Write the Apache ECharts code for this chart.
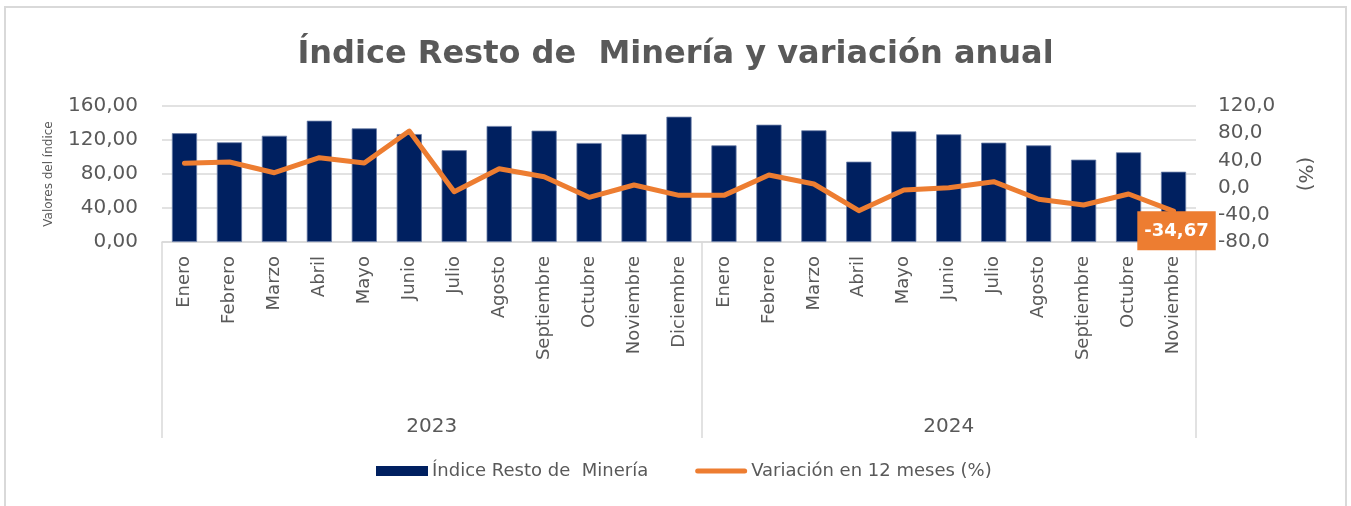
<!DOCTYPE html>
<html>
<head>
<meta charset="utf-8">
<script src="https://cdn.jsdelivr.net/npm/echarts@6/dist/echarts.min.js"></script>
<style>
  html, body { margin: 0; padding: 0; background: #fff; }
  #frame { position: absolute; left: 4px; top: 6px; width: 1343px; height: 520px; border: 2px solid #d9d9d9; box-sizing: border-box; }
  #chart { position: absolute; left: 0; top: 0; width: 1351px; height: 506px; }
</style>
</head>
<body>
<div id="frame"></div>
<div id="chart"></div>
<script>
// meses por año
const months2023 = ['Enero', 'Febrero', 'Marzo', 'Abril', 'Mayo', 'Junio', 'Julio', 'Agosto', 'Septiembre', 'Octubre', 'Noviembre', 'Diciembre'];
const months2024 = ['Enero', 'Febrero', 'Marzo', 'Abril', 'Mayo', 'Junio', 'Julio', 'Agosto', 'Septiembre', 'Octubre', 'Noviembre'];
const years = ['2023', '2024'];

const indice = [128.0, 117.3, 125.0, 142.7, 133.7, 127.0, 108.0, 136.5, 131.0, 116.5, 127.0, 147.4,
  113.7, 138.0, 131.4, 94.5, 130.2, 126.7, 116.9, 113.7, 96.9, 105.5, 82.7];
const variacion = [35.7, 37.6, 21.9, 44.0, 36.2, 83.2, -6.0, 27.8, 16.0, -14.3, 3.8, -11.4,
  -11.4, 18.5, 5.3, -34.0, -3.5, -0.1, 8.7, -17.2, -25.6, -9.4, -34.67];

const leftTicks = { min: 0, max: 160, interval: 40 };
const rightTicks = { min: -80, max: 120, interval: 40 };

const categories = months2023.concat(months2024);
const yearCounts = [months2023.length, months2024.length];
// límites y centros de cada año en unidades de categoría
const yearBounds = [0];
yearCounts.forEach((c, i) => yearBounds.push(yearBounds[i] + c));
const yearCenters = yearCounts.map((c, i) => yearBounds[i] + c / 2);

const FONT = 'DejaVu Sans';
const GRAY = '#595959';
const ORANGE = '#ED7D31';
const comma = (v, d) => v.toFixed(d).replace('.', ',');

// solo el último punto lleva etiqueta
const lineData = variacion.map((v, i) => {
  if (i !== variacion.length - 1) return v;
  return {
    value: v,
    label: {
      show: true,
      position: 'bottom',
      distance: 1,
      offset: [3, -2],
      formatter: p => comma(p.value, 2),
      backgroundColor: ORANGE,
      color: '#fff',
      fontFamily: FONT,
      fontWeight: 'bold',
      fontSize: 18,
      padding: [11, 7, 10, 7]
    }
  };
});

const chart = echarts.init(document.getElementById('chart'), null, { renderer: 'canvas' });
chart.setOption({
  animation: false,
  backgroundColor: 'transparent',
  textStyle: { fontFamily: FONT },
  title: {
    text: 'Índice Resto de  Minería y variación anual',
    left: 'center',
    top: 39,
    padding: 0,
    textStyle: { fontFamily: FONT, fontSize: 32, fontWeight: 'bold', color: GRAY }
  },
  legend: {
    left: 376,
    top: 462,
    padding: 0,
    itemWidth: 52,
    itemHeight: 10,
    itemGap: 47,
    textStyle: { fontFamily: FONT, fontSize: 18, color: GRAY, padding: [0, 0, 0, -1] },
    data: [
      { name: 'Índice Resto de  Minería', icon: 'rect', itemStyle: { borderWidth: 0 } },
      {
        name: 'Variación en 12 meses (%)',
        icon: 'path://M2.5,0 H49.5 A2.5,2.5 0 0 1 49.5,5 H2.5 A2.5,2.5 0 0 1 2.5,0 Z'
      }
    ]
  },
  grid: { left: 162, right: 155, top: 106, bottom: 264, containLabel: false },
  xAxis: [
    {
      type: 'category',
      data: categories,
      position: 'bottom',
      boundaryGap: true,
      axisLine: { onZero: false, lineStyle: { color: '#d9d9d9', width: 1.5 } },
      axisTick: { show: false },
      axisLabel: { rotate: 90, margin: 14, interval: 0, fontSize: 18, color: GRAY, fontFamily: FONT }
    },
    {
      type: 'value',
      position: 'bottom',
      min: 0,
      max: categories.length,
      axisLine: { show: false, onZero: false },
      splitLine: { show: false },
      axisTick: {
        show: true,
        customValues: yearBounds,
        length: 196,
        lineStyle: { color: '#d9d9d9', width: 1.5 }
      },
      axisLabel: {
        customValues: yearCenters,
        margin: 175,
        fontSize: 20,
        color: GRAY,
        fontFamily: FONT,
        formatter: v => years[yearCenters.indexOf(v)] || ''
      }
    }
  ],
  yAxis: [
    {
      type: 'value',
      min: leftTicks.min,
      max: leftTicks.max,
      interval: leftTicks.interval,
      name: 'Valores del índice',
      nameLocation: 'middle',
      nameGap: 107,
      nameRotate: 90,
      nameTextStyle: { fontSize: 12, color: GRAY, fontFamily: FONT },
      axisLine: { show: false },
      axisTick: { show: false },
      axisLabel: { margin: 24, fontSize: 20, color: GRAY, fontFamily: FONT, formatter: v => comma(v, 2) },
      splitLine: { lineStyle: { color: '#d9d9d9', width: 1.5 } }
    },
    {
      type: 'value',
      position: 'right',
      min: rightTicks.min,
      max: rightTicks.max,
      interval: rightTicks.interval,
      name: '(%)',
      nameLocation: 'middle',
      nameGap: 98,
      nameRotate: -90,
      nameTextStyle: { fontSize: 20, color: GRAY, fontFamily: FONT },
      axisLine: { show: false },
      axisTick: { show: false },
      axisLabel: { margin: 22, fontSize: 20, color: GRAY, fontFamily: FONT, formatter: v => comma(v, 1) },
      splitLine: { show: false }
    }
  ],
  series: [
    {
      name: 'Índice Resto de  Minería',
      type: 'bar',
      xAxisIndex: 0,
      yAxisIndex: 0,
      data: indice,
      barWidth: '56%',
      itemStyle: { color: '#002060', borderColor: '#6b7fa8', borderWidth: 0.8 }
    },
    {
      name: 'Variación en 12 meses (%)',
      type: 'line',
      xAxisIndex: 0,
      yAxisIndex: 1,
      data: lineData,
      symbol: 'circle',
      symbolSize: 2,
      showSymbol: true,
      lineStyle: { color: ORANGE, width: 5, cap: 'round', join: 'round' },
      itemStyle: { color: ORANGE },
      label: { show: false },
      z: 5
    }
  ]
});
</script>
</body>
</html>
